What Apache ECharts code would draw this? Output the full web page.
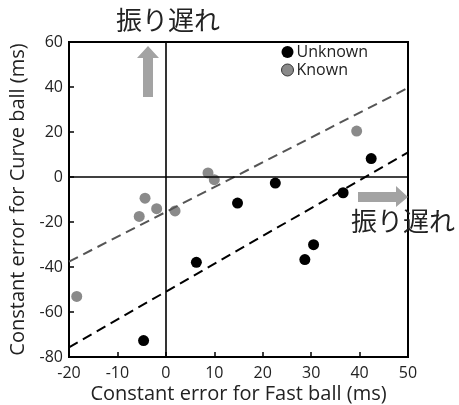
<!DOCTYPE html>
<html>
<head>
<meta charset="utf-8">
<script src="https://cdn.jsdelivr.net/npm/echarts@6/dist/echarts.min.js"></script>
<style>
  html, body { margin: 0; padding: 0; background: #fff; }
  #chart { width: 459px; height: 405px; }
</style>
</head>
<body>
<div id="chart"></div>
<script>
// Constant errors (ms): [fast ball, curve ball]
const unknownPoints = [
  [-4.6, -72.7], [6.3, -37.9], [14.8, -11.6], [22.6, -2.7],
  [28.7, -36.7], [30.5, -30.1], [36.6, -7.0], [42.4, 8.2]
];
const knownPoints = [
  [-18.4, -53.1], [-5.5, -17.5], [-4.3, -9.4], [-1.9, -14.1],
  [1.9, -15.1], [8.7, 1.8], [10.0, -1.2], [39.4, 20.4]
];
// Regression line endpoints
const unknownFit = [[-20, -75.7], [50, 10.9]];
const knownFit = [[-20, -37.6], [50, 39.6]];

const xRange = [-20, 50, 10];
const yRange = [-80, 60, 20];

const FONT = '"Open Sans", "Noto Sans", sans-serif';
const JP = '"Noto Sans CJK JP", sans-serif';
const GRAY = '#8a8a8a';
const ARROW = '#a3a3a3';

const chart = echarts.init(document.getElementById('chart'), null, { renderer: 'canvas' });

const axisCommon = {
  axisLine: { onZero: false, lineStyle: { color: '#000', width: 2 } },
  axisTick: { inside: true, length: 5, lineStyle: { color: '#000', width: 1.5 } },
  splitLine: { show: false },
  nameMoveOverlap: false,
  axisLabel: { color: '#222', fontFamily: FONT, fontSize: 16 },
  nameTextStyle: { color: '#222', fontFamily: FONT, fontSize: 20 }
};

chart.setOption({
  animation: false,
  grid: {
    left: 69, right: 51, top: 42, bottom: 48,
    containLabel: false, outerBoundsMode: 'none',
    show: true, borderColor: '#000', borderWidth: 2
  },
  xAxis: Object.assign({
    type: 'value', min: xRange[0], max: xRange[1], interval: xRange[2],
    name: 'Constant error for Fast ball (ms)', nameLocation: 'middle', nameGap: 27
  }, axisCommon, {
    axisLabel: Object.assign({}, axisCommon.axisLabel, { margin: 8 })
  }),
  yAxis: Object.assign({
    type: 'value', min: yRange[0], max: yRange[1], interval: yRange[2],
    name: 'Constant error for Curve ball (ms)', nameLocation: 'middle', nameGap: 41
  }, axisCommon, {
    axisLabel: Object.assign({}, axisCommon.axisLabel, { margin: 6 })
  }),
  legend: {
    orient: 'vertical', left: 276, top: 39, itemWidth: 12, itemHeight: 12,
    itemGap: 2,
    textStyle: { color: '#222', fontFamily: FONT, fontSize: 16, padding: [0, 0, 0, -2] },
    data: [
      { name: 'Unknown', icon: 'circle', itemStyle: { color: '#000' } },
      { name: 'Known', icon: 'circle', itemStyle: { color: GRAY, borderColor: '#333', borderWidth: 1 } }
    ]
  },
  series: [
    {
      name: 'zero', type: 'line', data: [], silent: true,
      markLine: {
        symbol: 'none', silent: true, label: { show: false },
        lineStyle: { color: '#000', width: 1.6, type: 'solid' },
        data: [{ xAxis: 0 }, { yAxis: 0 }]
      }
    },
    {
      name: 'Known fit', type: 'line', data: knownFit, showSymbol: false, silent: true,
      lineStyle: { color: '#555', width: 2, type: [10, 6] }
    },
    {
      name: 'Unknown fit', type: 'line', data: unknownFit, showSymbol: false, silent: true,
      lineStyle: { color: '#000', width: 2, type: [10, 6] }
    },
    {
      name: 'Known', type: 'scatter', data: knownPoints, symbolSize: 11,
      itemStyle: { color: GRAY, opacity: 1 }
    },
    {
      name: 'Unknown', type: 'scatter', data: unknownPoints, symbolSize: 11,
      itemStyle: { color: '#000', opacity: 1 }
    }
  ],
  graphic: [
    { type: 'text', left: 116, top: 7,
      style: { text: '振り遅れ', font: '26px ' + JP, fill: '#222' } },
    { type: 'text', left: 351, top: 208,
      style: { text: '振り遅れ', font: '26px ' + JP, fill: '#222' } },
    { type: 'polygon', z: 5,
      shape: { points: [[143, 97], [153, 97], [153, 58], [159, 58], [148, 46], [137, 58], [143, 58]] },
      style: { fill: ARROW } },
    { type: 'polygon', z: 5,
      shape: { points: [[358, 192], [396, 192], [396, 186], [408, 197], [396, 207], [396, 202], [358, 202]] },
      style: { fill: ARROW } }
  ]
});
</script>
</body>
</html>
